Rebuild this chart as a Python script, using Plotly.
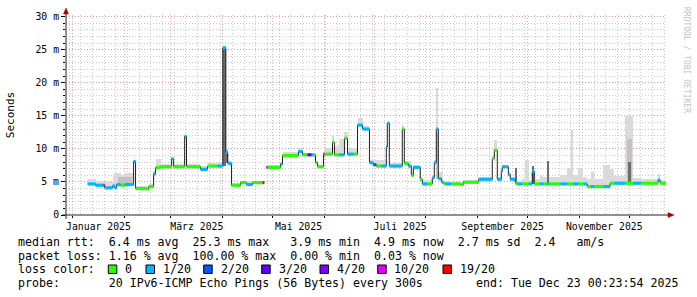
import pandas as pd
import plotly.graph_objects as go

# ---------------- data ----------------
x_start = "2024-12-28 00:23:54"
x_end = "2025-12-23 00:23:54"
data_end = "2025-12-23 00:23:54"

seg_start = [
    "2025-01-10 00:00", "2025-01-14 18:00", "2025-01-19 12:00", "2025-01-20 06:00", "2025-01-25 00:00",
    "2025-01-26 06:00", "2025-01-27 09:00", "2025-01-29 18:00", "2025-02-01 06:00", "2025-02-06 14:00",
    "2025-02-07 18:00", "2025-02-14 10:00", "2025-02-15 14:00", "2025-02-18 14:00", "2025-02-19 18:00",
    "2025-02-22 18:00", "2025-03-01 10:00", "2025-03-02 14:00", "2025-03-09 05:00", "2025-03-10 08:00",
    "2025-03-18 17:00", "2025-03-22 22:00", "2025-03-28 22:00", "2025-04-01 02:00", "2025-04-02 22:00",
    "2025-04-04 02:00", "2025-04-06 07:00", "2025-04-11 17:00", "2025-04-15 07:00", "2025-04-18 22:00",
    "2025-04-24 22:00", "2025-04-26 02:00", "2025-04-27 07:00", "2025-04-27 22:00", "2025-05-05 17:00",
    "2025-05-06 22:00", "2025-05-16 12:00", "2025-05-18 22:00", "2025-05-21 22:00", "2025-05-24 07:00",
    "2025-05-25 12:00", "2025-05-26 17:00", "2025-05-27 22:00", "2025-05-31 12:00", "2025-06-01 02:00",
    "2025-06-05 22:00", "2025-06-07 02:00", "2025-06-10 02:00", "2025-06-13 02:00", "2025-06-14 22:00",
    "2025-06-18 12:00", "2025-06-20 22:00", "2025-06-23 22:00", "2025-06-28 02:00", "2025-06-30 10:00",
    "2025-07-02 05:00", "2025-07-05 05:00", "2025-07-08 05:00", "2025-07-08 19:00", "2025-07-10 00:00",
    "2025-07-17 19:00", "2025-07-19 00:00", "2025-07-21 10:00", "2025-07-23 05:00", "2025-07-24 10:00",
    "2025-07-28 14:00", "2025-07-29 19:00", "2025-08-01 19:00", "2025-08-04 19:00", "2025-08-06 00:00",
    "2025-08-07 05:00", "2025-08-08 10:00", "2025-08-10 05:00", "2025-08-11 10:00", "2025-08-12 14:00",
    "2025-08-16 05:00", "2025-08-21 14:00", "2025-08-23 10:00", "2025-09-01 14:00", "2025-09-09 19:00",
    "2025-09-11 00:00", "2025-09-12 19:00", "2025-09-15 05:00", "2025-09-15 19:00", "2025-09-19 10:00",
    "2025-09-20 14:00", "2025-09-23 14:00", "2025-09-24 19:00", "2025-09-27 19:00", "2025-09-29 12:00",
    "2025-10-01 17:00", "2025-10-03 19:00", "2025-10-05 00:00", "2025-10-08 14:00", "2025-10-10 10:00",
    "2025-10-12 19:00", "2025-10-14 00:00", "2025-10-20 14:00", "2025-10-24 17:00", "2025-10-27 05:00",
    "2025-10-28 10:00", "2025-10-31 10:00", "2025-11-03 10:00", "2025-11-05 17:00", "2025-11-08 02:00",
    "2025-11-10 00:00", "2025-11-15 10:00", "2025-11-19 12:00", "2025-11-21 22:00", "2025-11-28 12:00",
    "2025-12-03 06:00", "2025-12-08 00:00", "2025-12-18 06:00", "2025-12-19 12:00",
]

# median rtt in ms (None = no data)
seg_median = [
    4.7, 4.5, 4.5, 4.1, 4.4, 4.1, 4.6, 4.5, 4.6, 8.1,
    4.0, 3.9, 4.3, 6.2, 7.2, 7.3, 8.5, 7.3, 11.9, 7.3,
    6.9, 7.4, 7.4, 25.3, 9.5, 7.8, 4.5, 4.9, 4.6, 4.9,
    4.9, None, 7.2, 7.2, 7.7, 9.0, 9.6, 9.1, 9.1, 9.1,
    9.1, 7.9, 7.3, 9.2, 9.2, 11.0, 9.1, 9.1, 11.6, 9.2,
    9.2, 13.6, 13.0, 7.9, 7.6, 7.4, 7.4, 10.3, 13.9, 7.4,
    13.0, 7.8, 7.4, 6.0, 7.2, 5.4, 4.7, 4.7, 5.6, 7.9,
    13.0, 5.5, 5.0, 4.8, 4.7, 4.7, 4.6, 4.95, 5.4, 8.5,
    9.8, 5.4, 6.6, 7.3, 6.1, 5.4, 4.8, 4.7, 4.7, 4.7,
    4.7, 6.6, 4.7, 4.7, 4.7, 4.7, 4.7, 4.7, 4.7, 4.7,
    4.7, 4.7, 4.7, 4.3, 4.3, 4.3, 4.3, 4.8, 4.8, 4.8,
    4.8, 4.8, 5.3, 4.8,
]

# loss bucket index into loss_labels
seg_loss = [
    1, 1, 6, 1, 1, 1, 1, 0, 1, 1,
    0, 0, 0, 1, 0, 0, 1, 0, 1, 0,
    1, 0, 1, 1, 1, 1, 0, 0, 1, 0,
    6, None, 5, 0, 1, 0, 1, 0, 3, 1,
    0, 0, 0, 5, 0, 0, 0, 1, 0, 1,
    0, 1, 1, 1, 2, 0, 1, 1, 1, 1,
    0, 0, 1, 0, 1, 0, 1, 0, 1, 1,
    1, 1, 1, 0, 1, 0, 0, 0, 1, 0,
    0, 1, 1, 1, 1, 1, 0, 1, 0, 0,
    1, 1, 0, 1, 0, 1, 0, 1, 0, 0,
    1, 0, 1, 0, 1, 0, 1, 0, 1, 0,
    1, 0, 1, 0,
]

# upper edge of the smoke (slowest pings) in ms
seg_smoke = [
    5.4, 5.2, 5.2, 5.0, 6.0, 6.3, 6.4, 6.0, 6.3, 8.3,
    4.4, 4.3, 4.7, 6.6, 8.4, 7.7, 8.8, 7.7, 12.1, 7.7,
    7.4, 7.8, 8.0, 25.5, 10.0, 8.2, 4.8, 5.1, 5.2, 5.2,
    5.1, None, 7.3, 7.5, 8.0, 9.6, 10.1, 9.4, 9.4, 9.4,
    9.4, 8.2, 7.6, 9.6, 10.1, 12.1, 10.5, 11.5, 12.6, 10.1,
    10.1, 14.7, 13.5, 8.3, 8.3, 8.3, 8.3, 10.6, 14.0, 7.8,
    13.6, 8.2, 8.2, 6.5, 7.6, 5.8, 5.3, 5.3, 6.0, 8.3,
    19.2, 6.5, 6.5, 5.2, 5.1, 5.0, 5.0, 5.3, 5.7, 9.0,
    11.3, 5.8, 7.0, 7.6, 6.5, 5.8, 7.1, 5.2, 5.4, 8.3,
    5.3, 7.4, 5.5, 5.9, 5.7, 8.1, 5.8, 6.1, 7.1, 12.9,
    6.0, 7.1, 5.7, 5.5, 6.5, 5.5, 7.6, 7.0, 5.9, 14.9,
    5.6, 5.4, 6.2, 5.3,
]

# denser (darker) smoke columns
dark_start = ["2025-01-28 00:00", "2025-04-01 00:00", "2025-04-02 22:00", "2025-08-07 00:00",
              "2025-09-23 14:00", "2025-10-03 19:00", "2025-10-12 19:00", "2025-11-29 12:00",
              "2025-11-30 12:00"]
dark_end = ["2025-02-05 12:00", "2025-04-02 22:00", "2025-04-04 02:00", "2025-08-08 10:00",
            "2025-09-24 19:00", "2025-10-05 00:00", "2025-10-14 00:00", "2025-12-02 12:00",
            "2025-12-02 00:00"]
dark_lo = [4.6, 7.4, 7.8, 5.5, 4.8, 4.7, 4.7, 4.8, 4.8]
dark_hi = [5.8, 25.3, 9.5, 12.5, 7.1, 7.4, 8.1, 11.5, 8.0]
dark_level = [1, 2, 2, 1, 2, 2, 2, 1, 2]

loss_labels = ["0", "1/20", "2/20", "3/20", "4/20", "10/20", "19/20"]
loss_colors = ["#26ff00", "#00b8ff", "#0059ff", "#5e00ff", "#7e00ff", "#dd00ff", "#ff0000"]

y_ticks = [0, 5, 10, 15, 20, 25, 30]
y_ticktext = ["0", "5 m", "10 m", "15 m", "20 m", "25 m", "30 m"]

month_alias = {
    "December 2024": " ", "January 2025": "Januar 2025", "February 2025": " ",
    "March 2025": "März 2025", "April 2025": " ", "May 2025": "Mai 2025",
    "June 2025": " ", "July 2025": "Juli 2025", "August 2025": " ",
    "September 2025": "September 2025", "October 2025": " ",
    "November 2025": "November 2025", "December 2025": " ",
}

legend_line1 = "median rtt:  6.4 ms avg  25.3 ms max   3.9 ms min  4.9 ms now  2.7 ms sd  2.4   am/s"
legend_line2 = "packet loss: 1.16 % avg  100.00 % max  0.00 % min  0.03 % now"
legend_line3 = "loss color:"
legend_line4 = "probe:       20 IPv6-ICMP Echo Pings (56 Bytes) every 300s"
legend_end = "end: Tue Dec 23 00:23:54 2025"
watermark = "RRDTOOL / TOBI OETIKER"
y_title = "Seconds"

# ---------------- build figure ----------------
t = list(pd.to_datetime(seg_start))
t_stop = pd.Timestamp(data_end)
t_next = t[1:] + [t_stop]
dur = [(b - a).total_seconds() * 1000.0 for a, b in zip(t, t_next)]
valid = [i for i, m in enumerate(seg_median) if m is not None]

fig = go.Figure()

# light smoke
fig.add_trace(go.Bar(
    x=[t[i] for i in valid], width=[dur[i] for i in valid], offset=0,
    base=[seg_median[i] for i in valid],
    y=[seg_smoke[i] - seg_median[i] for i in valid],
    marker=dict(color="#dadada", line=dict(width=0)), hoverinfo="skip",
))

# darker smoke
shade = {1: "#c2c2c2", 2: "#6e6e6e"}
ds = list(pd.to_datetime(dark_start))
de = list(pd.to_datetime(dark_end))
fig.add_trace(go.Bar(
    x=ds, width=[(b - a).total_seconds() * 1000.0 for a, b in zip(ds, de)], offset=0,
    base=dark_lo, y=[h - l for h, l in zip(dark_hi, dark_lo)],
    marker=dict(color=[shade[k] for k in dark_level], line=dict(width=0)), hoverinfo="skip",
))

# median line (thin dark)
fig.add_trace(go.Scatter(
    x=t + [t_stop], y=seg_median + [seg_median[-1]],
    mode="lines", line=dict(color="#202020", width=1, shape="hv"),
    connectgaps=False, hoverinfo="skip",
))

# loss-coloured median band: one horizontal stroke per step, per loss bucket
for k, col in enumerate(loss_colors):
    bx, by = [], []
    for i in valid:
        if seg_loss[i] == k:
            bx += [t[i], t_next[i], None]
            by += [seg_median[i], seg_median[i], None]
    if bx:
        fig.add_trace(go.Scatter(x=bx, y=by, mode="lines",
                                 line=dict(color=col, width=3.2),
                                 connectgaps=False, hoverinfo="skip"))

# ---------------- layout ----------------
W, H = 697, 297
L, R, T, B = 66, 31, 15, 82
PW, PH = W - L - R, H - T - B


def px(xp):
    return (xp - L) / PW


def py(yp):
    return (H - B - yp) / PH


mono = "DejaVu Sans Mono"
red_grid = "rgba(225,110,110,0.55)"
grey_grid = "rgba(160,160,160,0.55)"

fig.update_layout(
    width=W, height=H, margin=dict(l=L, r=R, t=T, b=B, autoexpand=False),
    paper_bgcolor="white", plot_bgcolor="white", showlegend=False,
    barmode="overlay", bargap=0,
    font=dict(family=mono, size=10, color="black"),
)

fig.update_xaxes(
    type="date", range=[x_start, x_end],
    tick0="2025-01-01", dtick="M1", ticklabelmode="period", tickformat="%B %Y",
    labelalias=month_alias,
    showgrid=True, gridcolor=red_grid, griddash="1px,2px", gridwidth=1,
    minor=dict(tick0="2024-12-30", dtick=7 * 86400000, showgrid=True,
               gridcolor=grey_grid, griddash="1px,2px", gridwidth=1),
    ticks="outside", ticklen=2, tickcolor="black",
    showline=False, zeroline=False,
    tickfont=dict(family=mono, size=9.8, color="black"),
)

fig.update_yaxes(
    range=[0, 30.25], tickmode="array", tickvals=y_ticks, ticktext=y_ticktext,
    showgrid=True, gridcolor=red_grid, griddash="1px,2px", gridwidth=1,
    minor=dict(tick0=0, dtick=1, showgrid=True, gridcolor=grey_grid,
               griddash="1px,2px", gridwidth=1, ticks="outside", ticklen=2, tickcolor="black"),
    ticks="outside", ticklen=4, tickcolor="black",
    showline=False, zeroline=False,
    tickfont=dict(family=mono, size=9.8, color="black"),
    title=dict(text=y_title, font=dict(family=mono, size=11, color="black"), standoff=18),
)

shapes = []
# axes with arrows
shapes.append(dict(type="line", xref="paper", yref="paper", x0=px(66), x1=px(66),
                   y0=py(219), y1=py(12), line=dict(color="#202020", width=1)))
shapes.append(dict(type="line", xref="paper", yref="paper", x0=px(62), x1=px(669),
                   y0=py(215), y1=py(215), line=dict(color="#202020", width=1)))
shapes.append(dict(type="path", xref="paper", yref="paper",
                   path=f"M {px(63.5)} {py(14)} L {px(68.5)} {py(14)} L {px(66)} {py(8)} Z",
                   fillcolor="#a00000", line=dict(color="#a00000", width=0.5)))
shapes.append(dict(type="path", xref="paper", yref="paper",
                   path=f"M {px(668)} {py(212.5)} L {px(668)} {py(217.5)} L {px(674)} {py(215)} Z",
                   fillcolor="#a00000", line=dict(color="#a00000", width=0.5)))

# loss colour boxes
box_left = [108.3, 146, 203.7, 261.7, 320, 377.7, 443]
label_left = [123.3, 160.5, 218.5, 276.5, 334.5, 392, 458]
for bx, col in zip(box_left, loss_colors):
    shapes.append(dict(type="rect", xref="paper", yref="paper",
                       x0=px(bx), x1=px(bx + 8.5), y0=py(273.5), y1=py(265),
                       fillcolor=col, line=dict(color="black", width=1)))
fig.update_layout(shapes=shapes)


def nb(s):
    return s.replace(" ", "\u00a0")


lf = dict(family=mono, size=11.6, color="black")
ann = []
for txt, yy in [(legend_line1, 241.5), (legend_line2, 255.5), (legend_line3, 269.3), (legend_line4, 283)]:
    ann.append(dict(text=nb(txt), x=px(16), y=py(yy), xref="paper", yref="paper",
                    xanchor="left", yanchor="middle", showarrow=False, font=lf))
for lx, lab in zip(label_left, loss_labels):
    ann.append(dict(text=nb(lab), x=px(lx), y=py(269.3), xref="paper", yref="paper",
                    xanchor="left", yanchor="middle", showarrow=False, font=lf))
ann.append(dict(text=nb(legend_end), x=px(680), y=py(283), xref="paper", yref="paper",
                xanchor="right", yanchor="middle", showarrow=False, font=lf))
ann.append(dict(text=nb(watermark), x=px(686), y=py(60), xref="paper", yref="paper",
                xanchor="center", yanchor="middle", showarrow=False, textangle=90,
                font=dict(family=mono, size=8, color="#c4c4c4")))
fig.update_layout(annotations=ann)

fig.write_html("out.html")
